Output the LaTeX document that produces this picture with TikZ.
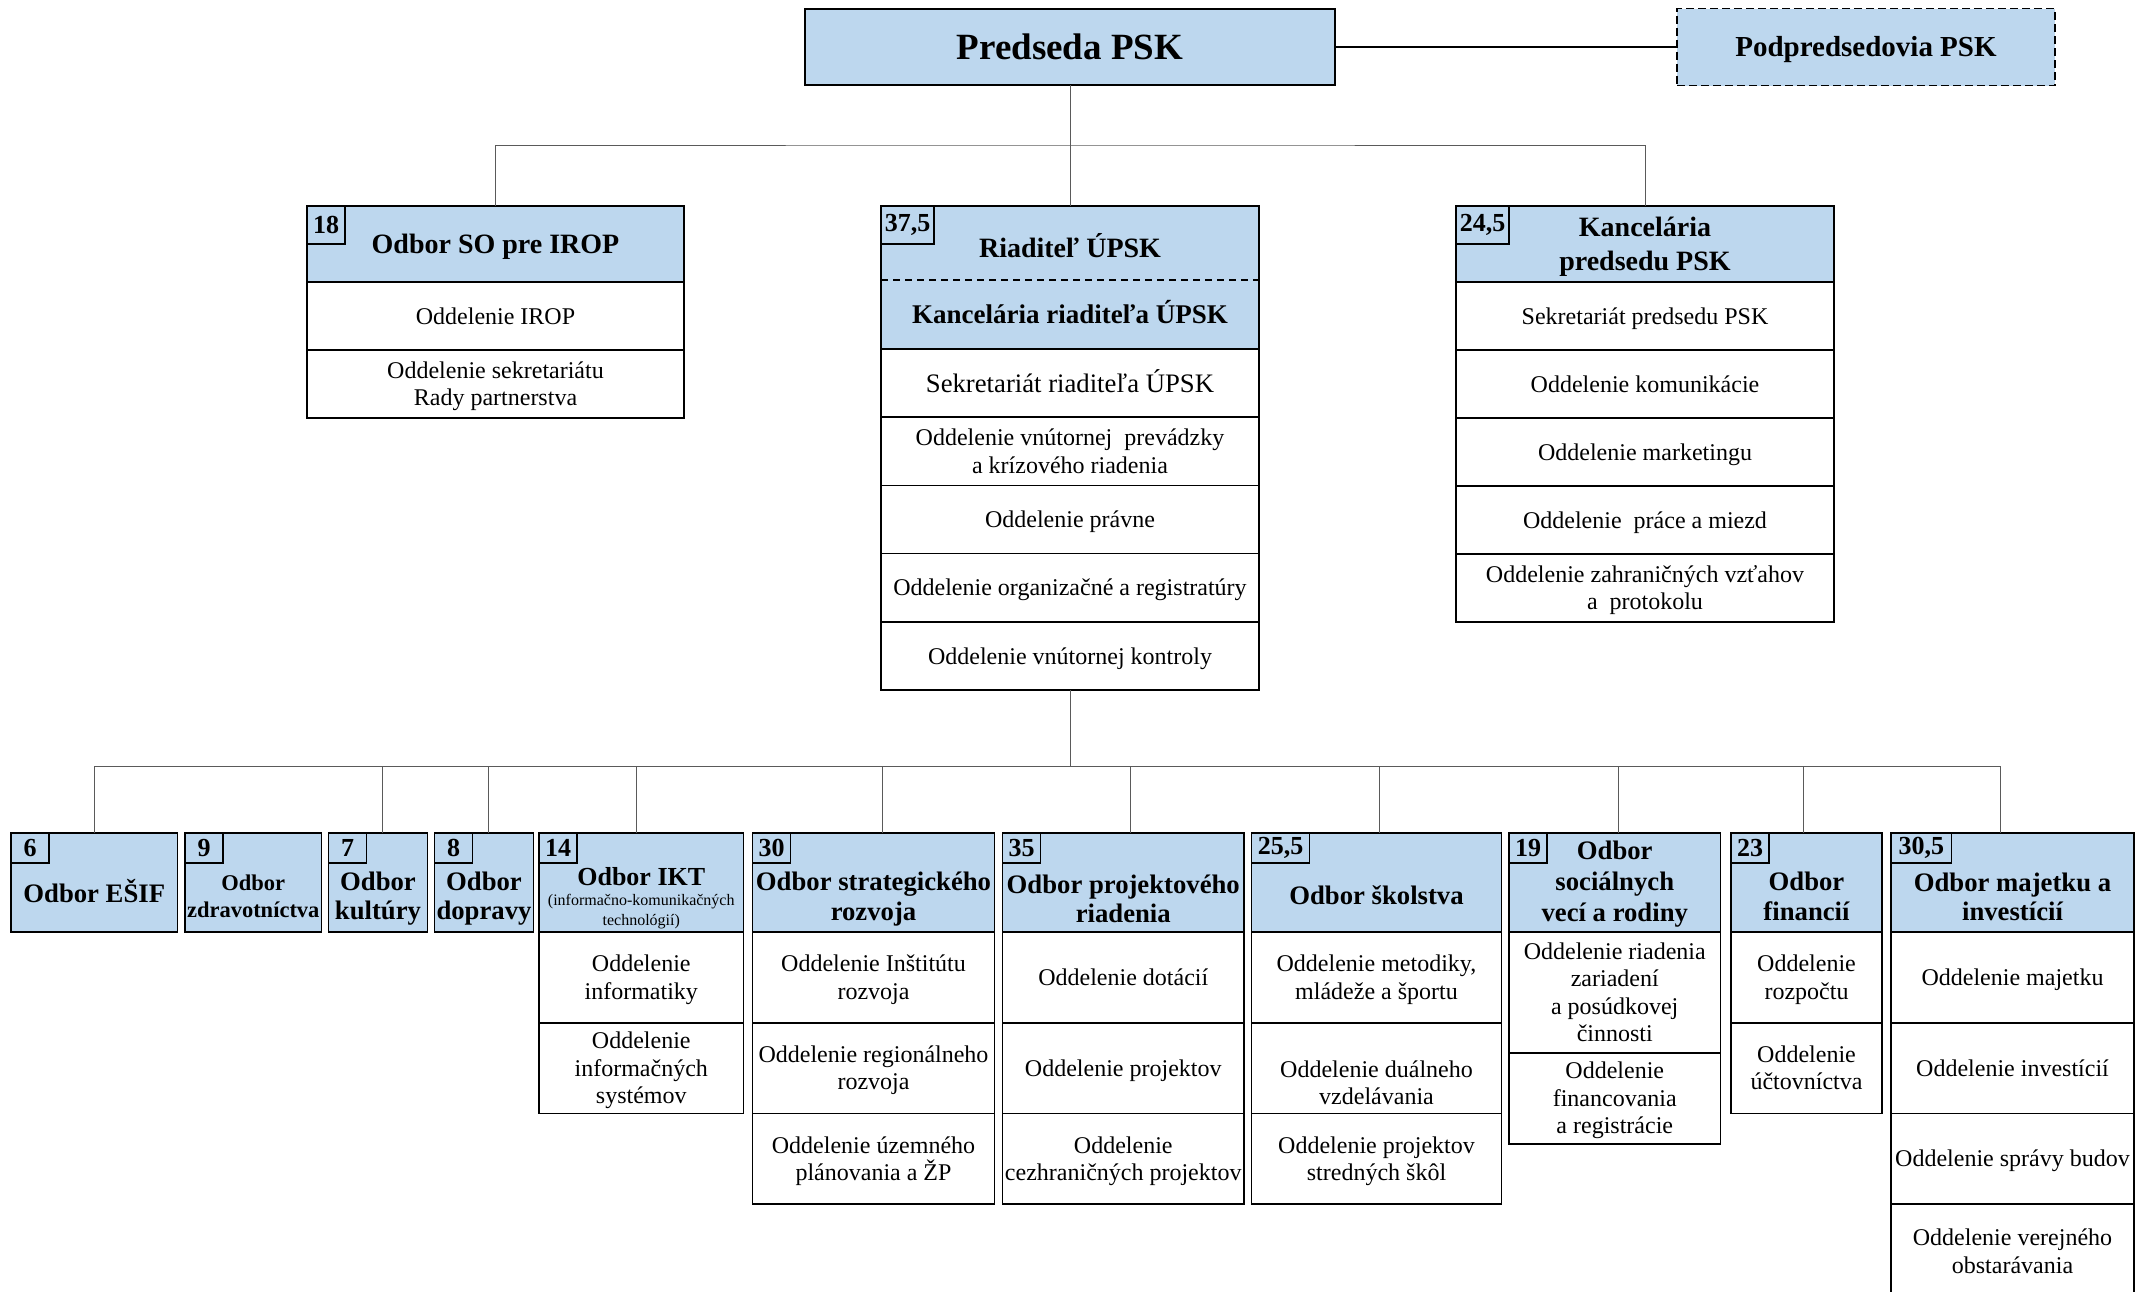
\documentclass[tikz,border=0pt]{standalone}
\usepackage{fontspec}
\setmainfont{Liberation Serif}
\usetikzlibrary{positioning}

\definecolor{headblue}{RGB}{189,215,238}
\definecolor{linkgray}{RGB}{90,90,90}

\begin{document}
\begin{tikzpicture}[x=1pt,y=-1pt,
  box/.style={draw,line width=1.7pt,inner sep=0pt,outer sep=0pt,align=center},
  hd/.style={box,fill=headblue,anchor=north west,text height=24.9pt,text depth=6pt,font=\bfseries\fontsize{28}{33.5}\selectfont},
  rw/.style={box,fill=white,text height=21.4pt,text depth=5.2pt,font=\fontsize{24}{27.5}\selectfont},
  l2/.style={text height=48.9pt},
  l3/.style={text height=76.4pt},
  l4/.style={text height=103.9pt},
  nr/.style={box,fill=headblue,anchor=north west,font=\bfseries\fontsize{26}{26}\selectfont},
  btl/.style={inner sep=0pt,align=center,font=\bfseries\fontsize{26.7}{29.5}\selectfont},
  link/.style={draw=linkgray,line width=1pt}]

\useasboundingbox (0,0) rectangle (2145,1291);

% vedenie
\node[hd,minimum width=530pt,minimum height=76pt,text height=33pt,text depth=8pt,font=\bfseries\fontsize{37}{40}\selectfont] (pred) at (805,9) {Predseda PSK};
\node[hd,dash pattern=on 8pt off 4pt,minimum width=378pt,minimum height=77pt,text height=25.8pt,text depth=6.3pt,font=\bfseries\fontsize{29}{33}\selectfont] (podpred) at (1677,8.5) {Podpredsedovia PSK};

% Odbor SO pre IROP
\begin{scope}[nodes={minimum width=377pt,minimum height=68pt}]
\node[hd,minimum height=76pt] (so) at (307,206) {Odbor SO pre IROP};
\node[rw,below=0pt of so] (so1) {Oddelenie IROP};
\node[rw,l2,below=0pt of so1] (so2) {Oddelenie sekretariátu\\Rady partnerstva};
\node[nr,minimum width=38pt,minimum height=38pt] (soN) at (so.north west) {18};
\end{scope}

% Riaditel UPSK
\begin{scope}[nodes={minimum width=378pt,minimum height=68.2pt}]
\node[hd,draw=none,minimum height=74pt,text height=34pt] (riad) at (881,206) {Riaditeľ ÚPSK};
\node[hd,draw=none,minimum height=69pt,text height=24.1pt,text depth=5.8pt,font=\bfseries\fontsize{27}{30}\selectfont,below=0pt of riad] (riadK) {Kancelária riaditeľa ÚPSK};
\draw[line width=1.7pt] (riad.north west) rectangle (riadK.south east);
\draw[line width=1.7pt,dash pattern=on 7pt off 5pt] (riad.south west) -- (riad.south east);
\node[rw,below=0pt of riadK,text height=23.8pt,text depth=5.8pt,font=\fontsize{26.7}{30}\selectfont] (riad1) {Sekretariát riaditeľa ÚPSK};
\node[rw,l2,below=0pt of riad1] (riad2) {Oddelenie vnútornej~ prevádzky\\a krízového riadenia};
\node[rw,below=0pt of riad2] (riad3) {Oddelenie právne};
\node[rw,below=0pt of riad3] (riad4) {Oddelenie organizačné a registratúry};
\node[rw,below=0pt of riad4] (riad5) {Oddelenie vnútornej kontroly};
\node[nr,minimum width=53pt,minimum height=38pt] (riadN) at (riad.north west) {37,5};
\end{scope}

% Kancelaria predsedu
\begin{scope}[nodes={minimum width=378pt,minimum height=68pt}]
\node[hd,minimum height=76pt,text height=58.4pt] (kanc) at (1456,206) {Kancelária\\predsedu PSK};
\node[rw,below=0pt of kanc] (kanc1) {Sekretariát predsedu PSK};
\node[rw,below=0pt of kanc1] (kanc2) {Oddelenie komunikácie};
\node[rw,below=0pt of kanc2] (kanc3) {Oddelenie marketingu};
\node[rw,below=0pt of kanc3] (kanc4) {Oddelenie~ práce a miezd};
\node[rw,l2,below=0pt of kanc4] (kanc5) {Oddelenie zahraničných vzťahov\\a~ protokolu};
\node[nr,minimum width=53pt,minimum height=38pt] (kancN) at (kanc.north west) {24,5};
\end{scope}

% odbory
\begin{scope}[nodes={minimum width=166.5pt,minimum height=90.7pt}]
\node[hd,minimum height=99pt] (esif) at (11,833) {};
\node[btl] (esifT) at ([yshift=-9pt]esif.center) {Odbor EŠIF};
\node[nr,minimum width=38pt,minimum height=30pt] (esifN) at (esif.north west) {6};
\end{scope}

\begin{scope}[nodes={minimum width=136.5pt,minimum height=90.7pt}]
\node[hd,minimum height=99pt] (zdrav) at (185,833) {};
\node[btl,font=\bfseries\fontsize{22.5}{27}\selectfont] (zdravT) at ([yshift=-14pt]zdrav.center) {Odbor\\zdravotníctva};
\node[nr,minimum width=38pt,minimum height=30pt] (zdravN) at (zdrav.north west) {9};
\end{scope}

\begin{scope}[nodes={minimum width=99pt,minimum height=90.7pt}]
\node[hd,minimum height=99pt] (kult) at (328.5,833) {};
\node[btl] (kultT) at ([yshift=-16pt]kult.center) {Odbor\\kultúry};
\node[nr,minimum width=38pt,minimum height=30pt] (kultN) at (kult.north west) {7};
\node[hd,minimum height=99pt] (dopr) at (434.5,833) {};
\node[btl] (doprT) at ([yshift=-16pt]dopr.center) {Odbor\\dopravy};
\node[nr,minimum width=38pt,minimum height=30pt] (doprN) at (dopr.north west) {8};
\end{scope}

\begin{scope}[nodes={minimum width=204.5pt,minimum height=90.7pt}]
\node[hd,minimum height=99pt] (ikt) at (539,833) {};
\node[btl,font=\bfseries\fontsize{26}{20}\selectfont] (iktT) at ([yshift=-16pt]ikt.center) {Odbor IKT\\{\mdseries\fontsize{16}{20}\selectfont (informačno-komunikačných}\\{\mdseries\fontsize{16}{20}\selectfont technológií)}};
\node[rw,l2,below=0pt of ikt] (ikt1) {Oddelenie\\informatiky};
\node[rw,l3,below=0pt of ikt1] (ikt2) {Oddelenie\\informačných\\systémov};
\node[nr,minimum width=38pt,minimum height=30pt] (iktN) at (ikt.north west) {14};
\end{scope}

\begin{scope}[nodes={minimum width=242pt,minimum height=90.7pt}]
\node[hd,minimum height=99pt] (strat) at (752.5,833) {};
\node[btl] (stratT) at ([yshift=-16.5pt]strat.center) {Odbor strategického\\rozvoja};
\node[rw,l2,below=0pt of strat] (strat1) {Oddelenie Inštitútu\\rozvoja};
\node[rw,l2,below=0pt of strat1] (strat2) {Oddelenie regionálneho\\rozvoja};
\node[rw,l2,below=0pt of strat2] (strat3) {Oddelenie územného\\plánovania a ŽP};
\node[nr,minimum width=38pt,minimum height=30pt] (stratN) at (strat.north west) {30};
\end{scope}

\begin{scope}[nodes={minimum width=241.5pt,minimum height=90.7pt}]
\node[hd,minimum height=99pt] (proj) at (1002.5,833) {};
\node[btl] (projT) at ([yshift=-16.5pt]proj.center) {Odbor projektového\\riadenia};
\node[rw,below=0pt of proj] (proj1) {Oddelenie dotácií};
\node[rw,below=0pt of proj1] (proj2) {Oddelenie projektov};
\node[rw,l2,below=0pt of proj2] (proj3) {Oddelenie\\cezhraničných projektov};
\node[nr,minimum width=38pt,minimum height=30pt] (projN) at (proj.north west) {35};
\end{scope}

\begin{scope}[nodes={minimum width=250pt,minimum height=90.7pt}]
\node[hd,minimum height=99pt] (skol) at (1251.5,833) {};
\node[btl] (skolT) at ([yshift=-12.5pt]skol.center) {Odbor školstva};
\node[rw,l2,below=0pt of skol] (skol1) {Oddelenie metodiky,\\mládeže a športu};
\node[rw,below=0pt of skol1,text height=78.9pt] (skol2) {Oddelenie duálneho\\vzdelávania};
\node[rw,l2,below=0pt of skol2] (skol3) {Oddelenie projektov\\stredných škôl};
\node[nr,minimum width=58pt,minimum height=30pt] (skolN) at (skol.north west) {25,5};
\end{scope}

\begin{scope}[nodes={minimum width=211.5pt,minimum height=90.7pt}]
\node[hd,minimum height=99pt] (soc) at (1509,833) {};
\node[btl,font=\bfseries\fontsize{26.7}{31}\selectfont] (socT) at ([yshift=-2pt]soc.center) {Odbor\\sociálnych\\vecí a rodiny};
\node[rw,l4,below=0pt of soc,minimum height=121pt] (soc1) {Oddelenie riadenia\\zariadení\\a posúdkovej\\činnosti};
\node[rw,l3,below=0pt of soc1] (soc2) {Oddelenie\\financovania\\a registrácie};
\node[nr,minimum width=38pt,minimum height=30pt] (socN) at (soc.north west) {19};
\end{scope}

\begin{scope}[nodes={minimum width=151pt,minimum height=90.7pt}]
\node[hd,minimum height=99pt] (fin) at (1731,833) {};
\node[btl] (finT) at ([yshift=-14pt]fin.center) {Odbor\\financií};
\node[rw,l2,below=0pt of fin] (fin1) {Oddelenie\\rozpočtu};
\node[rw,l2,below=0pt of fin1] (fin2) {Oddelenie\\účtovníctva};
\node[nr,minimum width=38pt,minimum height=30pt] (finN) at (fin.north west) {23};
\end{scope}

\begin{scope}[nodes={minimum width=243pt,minimum height=90.7pt}]
\node[hd,minimum height=99pt] (maj) at (1891,833) {};
\node[btl] (majT) at ([yshift=-14.5pt]maj.center) {Odbor majetku a\\investícií};
\node[rw,below=0pt of maj] (maj1) {Oddelenie majetku};
\node[rw,below=0pt of maj1] (maj2) {Oddelenie investícií};
\node[rw,below=0pt of maj2] (maj3) {Oddelenie správy budov};
\node[rw,l2,below=0pt of maj3,minimum height=95pt] (maj4) {Oddelenie verejného\\obstarávania};
\node[nr,minimum width=60.5pt,minimum height=30pt] (majN) at (maj.north west) {30,5};
\end{scope}

% spojnice
\coordinate (hubA) at (1070,145);
\coordinate (hubB) at (1070,766);
\draw[line width=2pt] (pred.east) -- (podpred.west);
\draw[link] (pred.south) -- (riad.north);
\draw[link] (so.north) |- (hubA) -| (kanc.north);
\draw[link] (riad5.south) -- (hubB);
\draw[link] (esif.north) |- (hubB) -| ([shift={(-12.5,0)}]maj.north);
\foreach \n/\dx in {kult/4,dopr/4,ikt/-5,strat/9,proj/7.5,skol/2.5,soc/4,fin/-3.5}
    \draw[link] ([shift={(\dx,0)}]\n.north) |- (hubB);

\end{tikzpicture}
\end{document}
